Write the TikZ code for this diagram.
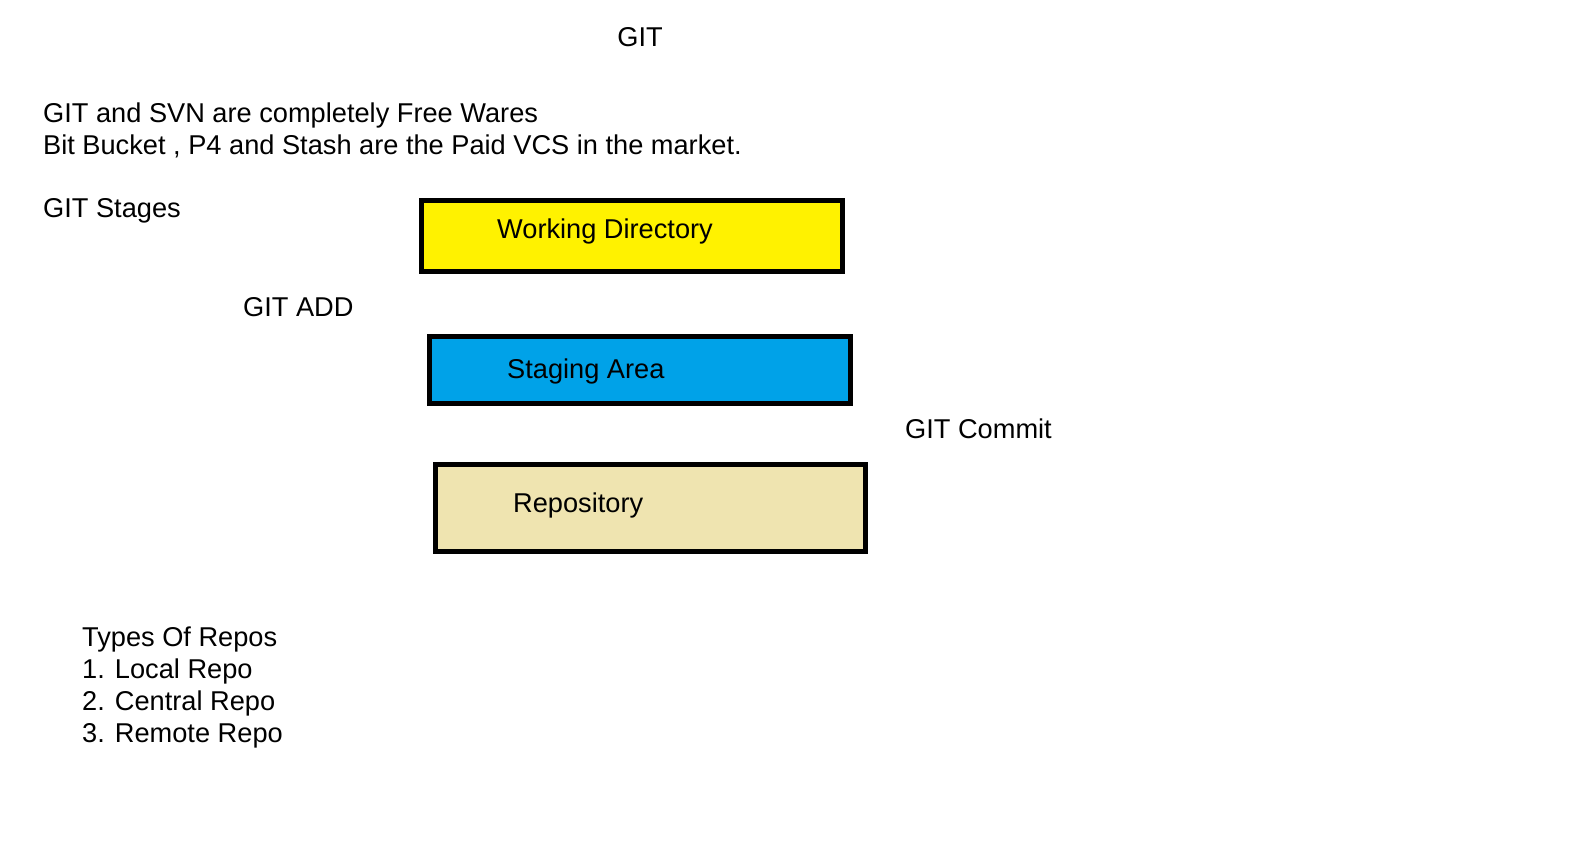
\documentclass[tikz,border=0pt]{standalone}
\usepackage{fontspec}
\setmainfont{Liberation Sans}
\definecolor{wdyellow}{HTML}{FFF200}
\definecolor{sablue}{HTML}{00A2E8}
\definecolor{repotan}{HTML}{EFE4B0}
\begin{document}
\begin{tikzpicture}[x=1bp,y=-1bp,
  txt/.style={anchor=base west,inner sep=0pt,font=\fontsize{27.2bp}{32bp}\selectfont},
  stagebox/.style={draw=black,line width=5bp,inner sep=0pt,rectangle}]
\useasboundingbox[fill=white] (0,0) rectangle (1577,843);
\node[txt,anchor=base] (title) at (640,46) {GIT};
\node[txt] (free) at (43,122) {GIT and SVN are completely Free Wares};
\node[txt] (paid) at (43,154) {Bit Bucket , P4 and Stash are the Paid VCS in the market.};
\node[txt] (stages) at (43,217) {GIT Stages};
\node[stagebox,fill=wdyellow,minimum width=421bp,minimum height=71bp] (wd) at (632,236) {};
\node[txt] (wdtext) at (497,238) {Working Directory};
\node[txt] (add) at (243,316) {GIT ADD};
\node[stagebox,fill=sablue,minimum width=421bp,minimum height=67bp] (sa) at (640,370) {};
\node[txt] (satext) at (507,378) {Staging Area};
\node[txt] (commit) at (905,438) {GIT Commit};
\node[stagebox,fill=repotan,minimum width=430bp,minimum height=87bp] (repo) at (650.5,508) {};
\node[txt] (repotext) at (513,512) {Repository};
\node[txt] (types) at (82,646) {Types Of Repos};
\node[txt] (local) at (82,678) {1. Local Repo};
\node[txt] (central) at (82,710) {2. Central Repo};
\node[txt] (remote) at (82,742) {3. Remote Repo};
\end{tikzpicture}
\end{document}
